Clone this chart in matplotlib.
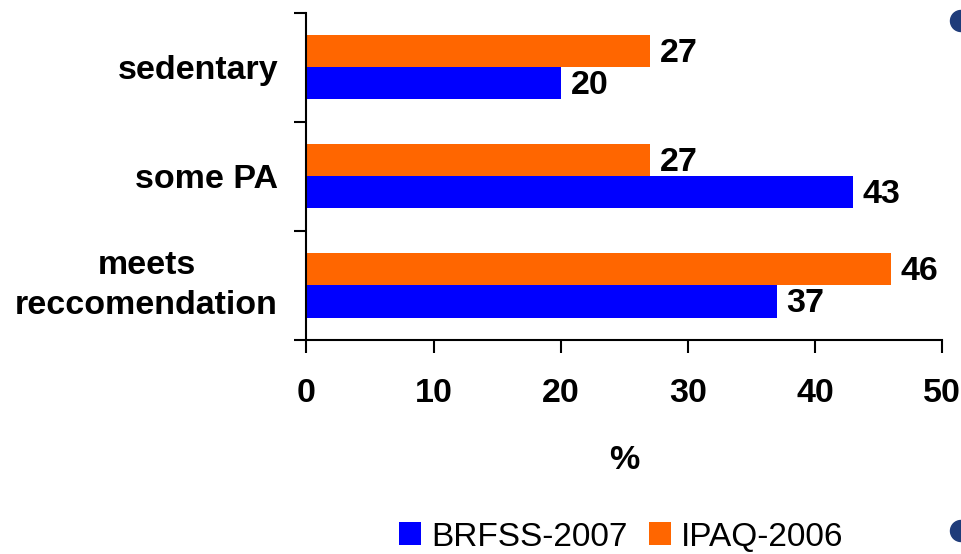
import matplotlib
matplotlib.use("Agg")
import matplotlib.pyplot as plt
from matplotlib.patches import Ellipse
import numpy as np

plt.rcParams['font.family'] = ['Liberation Sans', 'DejaVu Sans']

categories = ["meets\nreccomendation", "some PA", "sedentary"]
brfss_2007 = [37, 43, 20]
ipaq_2006 = [46, 27, 27]
series_names = ["BRFSS-2007", "IPAQ-2006"]
x_ticks = [0, 10, 20, 30, 40, 50]

blue = "#0000FF"
orange = "#FF6600"
fs = 24.5

W, H = 962, 554
fig = plt.figure(figsize=(W / 100, H / 100), dpi=100)
ax = fig.add_axes([306.5 / W, 1 - 340 / H, (942 - 306.5) / W, (340 - 12.5) / H])

y = np.arange(len(categories))
bh = 0.295
b1 = ax.barh(y - bh / 2, brfss_2007, height=bh, color=blue, label=series_names[0])
b2 = ax.barh(y + bh / 2, ipaq_2006, height=bh, color=orange, label=series_names[1])

for bars, vals in ((b1, brfss_2007), (b2, ipaq_2006)):
    for rect, v in zip(bars, vals):
        ax.annotate(f"{v}", (v, rect.get_y() + rect.get_height() / 2),
                    xytext=(7, -1.5), textcoords="offset points",
                    ha="left", va="center", fontsize=fs, fontweight="bold")

ax.set_xlim(0, 50)
ax.set_ylim(-0.5, len(categories) - 0.5)
ax.set_xticks(x_ticks)
ax.set_xticklabels([str(t) for t in x_ticks], fontsize=fs, fontweight="bold")

# boundary ticks between groups, labels at group centers
ax.set_yticks(np.arange(len(categories) + 1) - 0.5)
ax.set_yticklabels([])
ax.set_yticks(y, minor=True)
ax.set_yticklabels(categories, minor=True, fontsize=fs, fontweight="bold")
for lab in ax.get_yticklabels(minor=True):
    if "\n" in lab.get_text():
        lab.set_multialignment("center")
        lab.set_linespacing(1.38)
        lab.set_verticalalignment("center")
ax.tick_params(axis="y", which="minor", length=0, pad=20.5)
ax.tick_params(axis="y", which="major", length=9, width=1.5, direction="out")
ax.tick_params(axis="x", length=9, width=1.5, direction="out", pad=18)

for s in ("top", "right"):
    ax.spines[s].set_visible(False)
for s in ("left", "bottom"):
    ax.spines[s].set_linewidth(1.5)

ax.set_xlabel("%", fontsize=fs, fontweight="bold", labelpad=26)

fig.legend(handles=[b1, b2], labels=series_names, loc="center",
           bbox_to_anchor=(621 / W, 1 - 537 / H), ncol=2, frameon=False,
           fontsize=24, handlelength=0.67, handleheight=0.67,
           handletextpad=0.3, columnspacing=0.64, borderpad=0, borderaxespad=0)

# slide bullet marks along the right edge
for cy in (21, 531):
    fig.add_artist(Ellipse((961 / W, 1 - cy / H), 21 / W, 21 / H,
                           transform=fig.transFigure, color="#1F3C7A", clip_on=False))

fig.savefig("out.png", dpi=100)
